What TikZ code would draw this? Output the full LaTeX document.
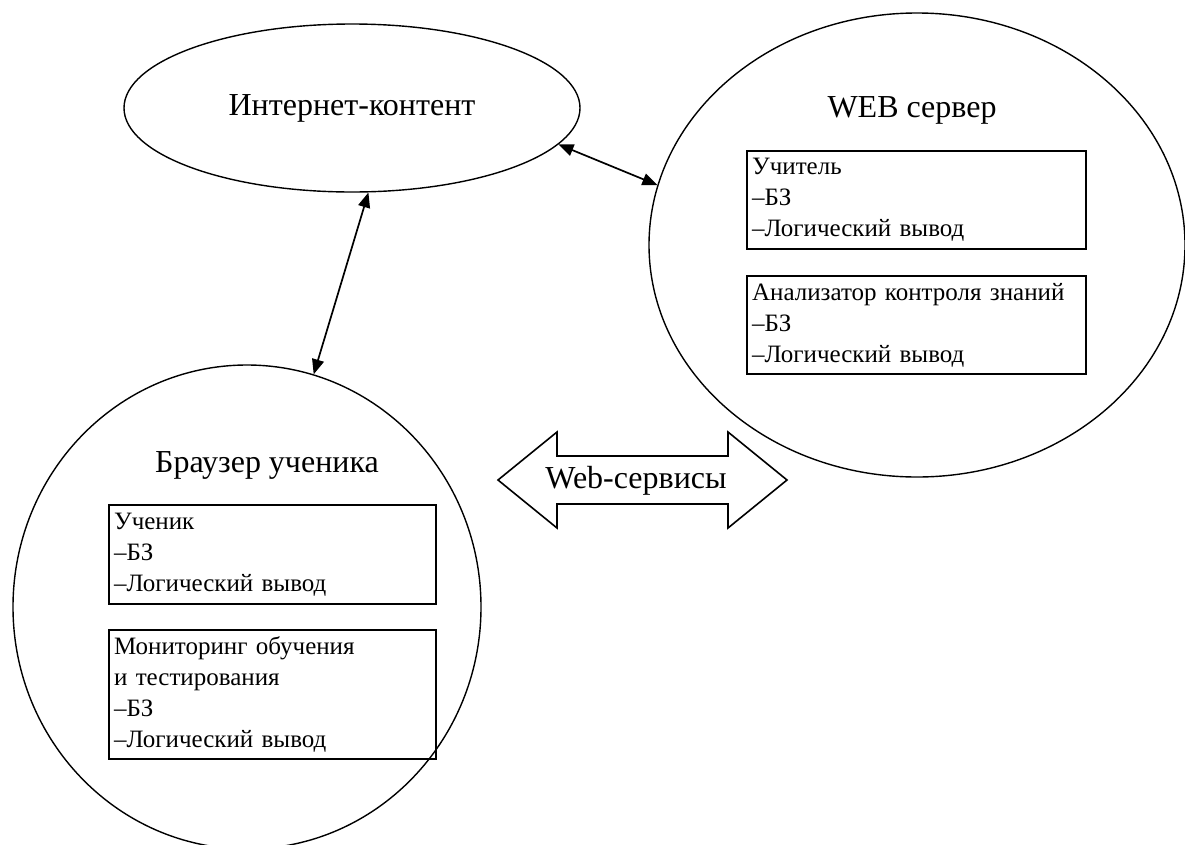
\documentclass[tikz,border=0pt]{standalone}
\usepackage{fontspec}
\setmainfont{Liberation Serif}
\usetikzlibrary{shapes.geometric,arrows.meta}
\tikzset{
  oval/.style={ellipse, draw, line width=1.4pt, inner sep=0pt},
  title/.style={font=\fontsize{32}{38}\selectfont, inner sep=0pt},
  infobox/.style={draw, line width=2.2pt, anchor=north west, align=left,
    inner xsep=5pt, inner ysep=0pt, font=\fontsize{25}{31}\selectfont},
  link/.style={line width=1.7pt, {Triangle[length=15pt,width=12pt]}-{Triangle[length=15pt,width=12pt]}},
  blockarrow/.style={draw, line width=1.6pt, line join=miter}
}
\begin{document}
\begin{tikzpicture}[x=1pt,y=-1pt]
\useasboundingbox (0,0) rectangle (1185,844);
\clip (0,0) rectangle (1185,844);
\fill[white] (0,0) rectangle (1185,844);

% ovals
\node[oval, minimum width=456pt, minimum height=168pt, title, draw, line width=1.4pt] (inet) at (352,108) {Интернет-контент};
\node[oval, minimum width=536pt, minimum height=464pt] (server) at (917,245) {};
\node[oval, minimum width=468pt, minimum height=484pt] (browser) at (247,607) {};

% titles
\node[title] (servertitle) at (912,110) {WEB сервер};
\node[title] (browsertitle) at (267,465) {Браузер ученика};

% boxes
\node[infobox, minimum width=339pt, minimum height=98pt, text width=329pt] (teacher) at (746,150)
  {Учитель\\–БЗ\\–Логический вывод};
\node[infobox, minimum width=339pt, minimum height=98pt, text width=329pt] (analyzer) at (746,275)
  {Анализатор контроля знаний\\–БЗ\\–Логический вывод};
\node[infobox, minimum width=327pt, minimum height=99pt, text width=317pt] (pupil) at (108,504)
  {Ученик\\–БЗ\\–Логический вывод};
\node[infobox, minimum width=327pt, minimum height=129pt, text width=317pt] (monitor) at (108,629)
  {Мониторинг обучения\\и тестирования\\–БЗ\\–Логический вывод};

% connectors
\draw[link] (inet.-79.6) -- (browser.74.8);
\draw[link] (inet.-10.2) -- (server.167.6);

% block double arrow
\node[title] (ws) at (636,481) {Web-сервисы};
\draw[blockarrow] (498,480) -- (557,432) -- (557,456) -- (728,456) -- (728,432)
  -- (787,480) -- (728,528) -- (728,504) -- (557,504) -- (557,528) -- cycle;
\end{tikzpicture}
\end{document}
